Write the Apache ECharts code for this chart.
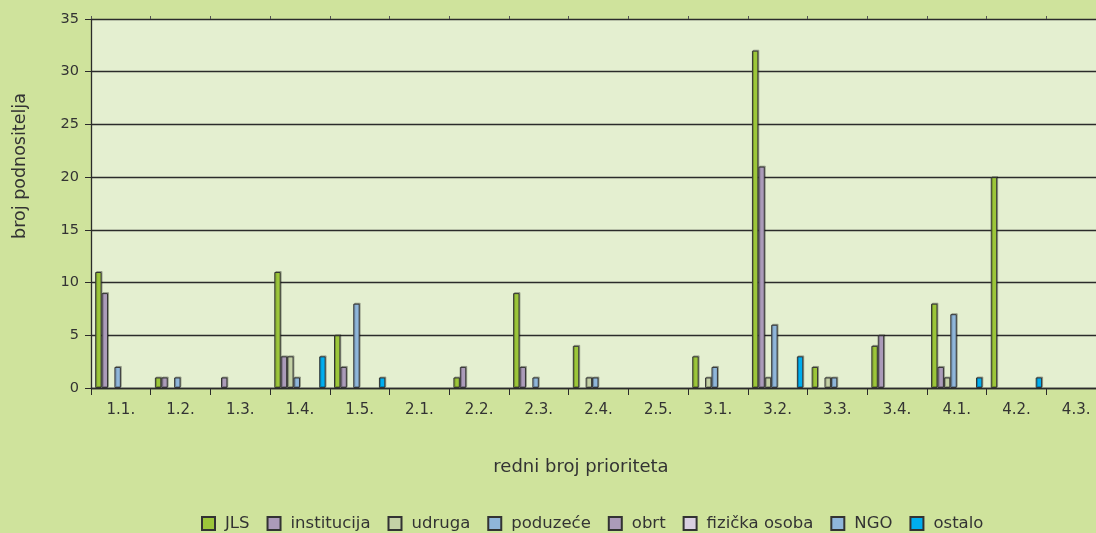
<!DOCTYPE html>
<html lang="hr">
<head>
    <meta charset="UTF-8">
    <script src="https://cdn.jsdelivr.net/npm/echarts@6/dist/echarts.min.js"></script>
    <title>broj podnositelja po prioritetima</title>
    <style>
        *{
            margin: 0;
            padding: 0;
        }
        #chart{
            width: 1096px;
            height: 533px;
        }
    </style>
</head>
<body>
    <div id="chart"></div>
</body>
<script>
    // prioriteti (os x)
    var categories = ['1.1.', '1.2.', '1.3.', '1.4.', '1.5.', '2.1.', '2.2.', '2.3.', '2.4.', '2.5.',
        '3.1.', '3.2.', '3.3.', '3.4.', '4.1.', '4.2.', '4.3.'];

    // broj podnositelja po vrsti
    var jls         = [11, 1, 0, 11, 5, 0, 1, 9, 4, 0, 3, 32, 2, 4, 8, 20, 0];
    var institucija = [9, 1, 1, 3, 2, 0, 2, 2, 0, 0, 0, 21, 0, 5, 2, 0, 0];
    var udruga      = [0, 0, 0, 3, 0, 0, 0, 0, 1, 0, 1, 1, 1, 0, 1, 0, 0];
    var poduzece    = [2, 1, 0, 1, 8, 0, 0, 1, 1, 0, 2, 6, 1, 0, 7, 0, 0];
    var obrt        = [0, 0, 0, 0, 0, 0, 0, 0, 0, 0, 0, 0, 0, 0, 0, 0, 0];
    var fizicka     = [0, 0, 0, 0, 0, 0, 0, 0, 0, 0, 0, 0, 0, 0, 0, 0, 0];
    var ngo         = [0, 0, 0, 0, 0, 0, 0, 0, 0, 0, 0, 0, 0, 0, 0, 0, 0];
    var ostalo      = [0, 0, 0, 3, 1, 0, 0, 0, 0, 0, 0, 3, 0, 0, 1, 1, 0];

    var seriesNames = ['JLS', 'institucija', 'udruga', 'poduzeće', 'obrt', 'fizička osoba', 'NGO', 'ostalo'];
    var seriesData = [jls, institucija, udruga, poduzece, obrt, fizicka, ngo, ostalo];
    var colors = ['#9cc63a', '#ab9bb9', '#c4d1a6', '#8fb6da', '#ab9bb9', '#d9d0e1', '#8fb6da', '#00aeef'];

    var font = '"DejaVu Sans", sans-serif';

    var chart = echarts.init(document.getElementById('chart'));

    var series = seriesNames.map(function (name, i) {
        return {
            name: name,
            type: 'bar',
            // nula se ne crta (nema ruba na osi)
            data: seriesData[i].map(function (v) { return v === 0 ? '-' : v; }),
            barGap: '0%',
            barCategoryGap: '14%',
            itemStyle: {
                color: colors[i],
                borderColor: '#333',
                borderWidth: 1,
                shadowColor: 'rgba(0,0,0,0.25)',
                shadowOffsetX: 1,
                shadowOffsetY: -1
            }
        };
    });

    var option = {
        backgroundColor: '#cfe39c',
        animation: false,
        color: colors,
        grid: {
            left: 91,
            top: 19,
            bottom: 145,
            right: -10,
            outerBoundsMode: 'none',
            show: true,
            backgroundColor: '#e4efd0',
            borderWidth: 0
        },
        legend: {
            data: seriesNames,
            top: 510,
            left: 196,
            icon: 'rect',
            itemWidth: 13,
            itemHeight: 13,
            itemGap: 17,
            textStyle: {fontFamily: font, fontSize: 16.5, color: '#333', padding: [0, 0, 0, 5]}
        },
        xAxis: [{
            type: 'category',
            data: categories,
            axisLine: {lineStyle: {color: '#2b2b2b', width: 1.3}},
            axisTick: {show: true, length: 7, lineStyle: {color: '#2b2b2b'}},
            axisLabel: {fontFamily: font, fontSize: 15, color: '#333', margin: 15}
        }, {
            type: 'category',
            data: categories,
            position: 'top',
            axisLine: {show: false},
            axisTick: {show: true, length: 3, lineStyle: {color: '#555'}},
            axisLabel: {show: false}
        }],
        yAxis: {
            type: 'value',
            min: 0,
            max: 35,
            interval: 5,
            axisLine: {show: true, lineStyle: {color: '#2b2b2b', width: 1.3}},
            axisTick: {show: true, length: 6, lineStyle: {color: '#2b2b2b'}},
            axisLabel: {fontFamily: font, fontSize: 14.5, color: '#333', margin: 12},
            splitLine: {lineStyle: {color: '#2b2b2b', width: 1.3}}
        },
        graphic: [{
            type: 'text',
            x: 20,
            y: 166,
            rotation: Math.PI / 2,
            style: {
                text: 'broj podnositelja',
                fontFamily: font,
                fontSize: 17.5,
                fill: '#333',
                textAlign: 'center',
                textVerticalAlign: 'middle'
            }
        }, {
            type: 'text',
            x: 581,
            y: 467,
            style: {
                text: 'redni broj prioriteta',
                fontFamily: font,
                fontSize: 18,
                fill: '#333',
                textAlign: 'center',
                textVerticalAlign: 'middle'
            }
        }],
        series: series
    };

    chart.setOption(option);
</script>
</html>
